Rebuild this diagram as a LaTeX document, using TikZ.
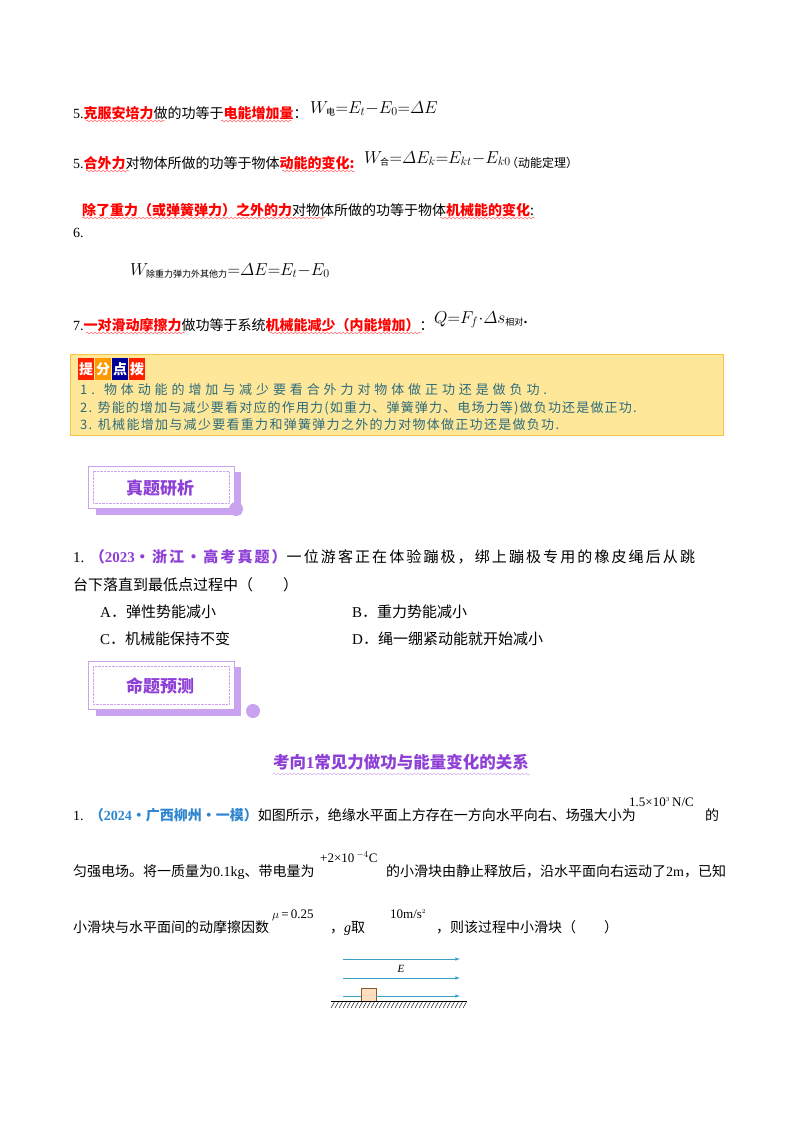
\documentclass[tikz,border=0pt]{standalone}
\usepackage{amsmath}
\usepackage{fontspec}
\setmainfont{Noto Sans CJK SC}
\newfontfamily\ser{Liberation Serif}
\usetikzlibrary{decorations.pathmorphing}
\definecolor{rd}{HTML}{FF0000}
\definecolor{tipbg}{HTML}{FFE79A}
\definecolor{tipbd}{HTML}{F6C64A}
\definecolor{teal}{HTML}{2C6C7C}
\definecolor{pur}{HTML}{8E3FD6}
\definecolor{lpur}{HTML}{C9A2F0}
\definecolor{qblue}{HTML}{2F86D0}
\definecolor{arr}{HTML}{3AA0C8}
\newcommand{\R}[1]{\textcolor{rd}{\bfseries #1}}
\newcommand{\sr}[1]{{\ser #1}}
\newcommand{\cs}[1]{\text{\fontsize{9}{9}\selectfont #1}}
\begin{document}
\begin{tikzpicture}[x=1pt,y=-1pt,
  txt/.style={anchor=base west,inner sep=0pt,font=\fontsize{14}{16}\selectfont},
  qtx/.style={anchor=base west,inner sep=0pt,font=\fontsize{15}{17}\selectfont},
  ptx/.style={anchor=base west,inner sep=0pt,font=\fontsize{14}{16}\selectfont},
  fml/.style={anchor=base west,inner sep=0pt,font=\fontsize{18}{20}\selectfont},
  tip/.style={anchor=base west,inner sep=0pt,text=teal},
  sm/.style={anchor=base west,inner sep=0pt,font=\ser\fontsize{13}{14}\selectfont},
  badge/.style={minimum width=16pt,minimum height=22pt,inner sep=0pt,text=white,font=\fontsize{14}{15}\selectfont\bfseries},
  bannerbox/.style={draw=lpur,line width=1pt,fill=white},
  wavy/.style={draw=rd!70,line width=0.4pt,decorate,decoration={snake,amplitude=0.8pt,segment length=4pt}}
]
\useasboundingbox (0,0) rectangle (800,1132);
\fill[white] (0,0) rectangle (800,1132);

% line 5a
\node[txt] (l1) at (73,118) {\sr{5.}\R{克服安培力}做的功等于\R{电能增加量}：};
\node[fml] (f1) at (310,113) {$W_{\cs{电}}{=}E_t{-}E_0{=}\varDelta E$};
% line 5b
\node[txt] (l2) at (73,168) {\sr{5.}\R{合外力}对物体所做的功等于物体\R{动能的变化:}};
\node[fml] (f2) at (364,163) {$W_{\cs{合}}{=}\varDelta E_k{=}E_{kt}{-}E_{k0}$};
\node[txt,font=\fontsize{12}{13}\selectfont] (l2b) at (506,167) {（动能定理）};
% line 6
\node[txt] (l3) at (82,215) {\R{除了重力（或弹簧弹力）之外的力}对物体所做的功等于物体\R{机械能的变化}:};
\node[txt] (l3n) at (73,237) {\sr{6.}};
\node[fml] (f3) at (130,275) {$W_{\cs{除重力弹力外其他力}}{=}\varDelta E{=}E_t{-}E_0$};
% line 7
\node[txt] (l4) at (73,330) {\sr{7.}\R{一对滑动摩擦力}做功等于系统\R{机械能减少（内能增加）}：};
\node[fml] (f4) at (434,323) {$Q{=}F_f{\cdot}\varDelta s_{\cs{相对}}$.};
\draw[wavy] (86,121)--(165,121); \draw[wavy] (221,121)--(292,121);
\draw[wavy] (86,171)--(130,171); \draw[wavy] (282,171)--(355,171);
\draw[wavy] (82,218)--(325,218); \draw[wavy] (440,218)--(535,218);
\draw[wavy] (86,333)--(185,333); \draw[wavy] (270,333)--(422,333);

% tip box
\draw[tipbd,fill=tipbg,line width=0.8pt] (70,354) rectangle (723,435);
\node[badge,fill=red!75!orange] (b1) at (86,369) {提};
\node[badge,fill=orange!80!yellow] (b2) at (103,369) {分};
\node[badge,fill=blue!60!black] (b3) at (120,369) {点};
\node[badge,fill=red!75!orange] (b4) at (137,369) {拨};
\node[tip,font=\fontsize{13}{14}\selectfont\addfontfeature{LetterSpace=30}] (t1) at (80,394) {1. 物体动能的增加与减少要看合外力对物体做正功还是做负功.};
\node[tip,font=\fontsize{13}{14}\selectfont\addfontfeature{LetterSpace=9}] (t2) at (80,412) {2. 势能的增加与减少要看对应的作用力(如重力、弹簧弹力、电场力等)做负功还是做正功.};
\node[tip,font=\fontsize{13}{14}\selectfont\addfontfeature{LetterSpace=10}] (t3) at (80,429) {3. 机械能增加与减少要看重力和弹簧弹力之外的力对物体做正功还是做负功.};

% banner 1
\fill[lpur] (96,472) rectangle (241,515);
\draw[bannerbox] (88,466) rectangle (234,508);
\draw[lpur,densely dotted] (93,471) rectangle (229,503);
\fill[lpur] (236,509) circle (7);
\node[font=\fontsize{17}{18}\selectfont\bfseries,text=pur] (bn1) at (160,488) {真题研析};

% question 1
\node[qtx,font=\fontsize{15}{17}\selectfont\addfontfeature{LetterSpace=14}] (q1) at (73,562) {\sr{1.}\ \textcolor{pur}{\bfseries （\sr{2023}·浙江·高考真题）}一位游客正在体验蹦极，绑上蹦极专用的橡皮绳后从跳};
\node[qtx] (q1b) at (73,590) {台下落直到最低点过程中（\qquad）};
\node[qtx] (oA) at (100,617) {\sr{A}．弹性势能减小};
\node[qtx] (oB) at (352,617) {\sr{B}．重力势能减小};
\node[qtx] (oC) at (100,644) {\sr{C}．机械能保持不变};
\node[qtx] (oD) at (352,644) {\sr{D}．绳一绷紧动能就开始减小};

% banner 2
\fill[lpur] (96,667) rectangle (241,716);
\draw[bannerbox] (88,661) rectangle (234,709);
\draw[lpur,densely dotted] (93,666) rectangle (229,704);
\fill[lpur] (253,711) circle (7);
\node[font=\fontsize{17}{18}\selectfont\bfseries,text=pur] (bn2) at (160,686) {命题预测};

% heading
\node[anchor=base,inner sep=0pt,font=\fontsize{16.5}{18}\selectfont\bfseries,text=pur] (hd) at (401,768) {考向\sr{1}常见力做功与能量变化的关系};
\draw[lpur,decorate,decoration={snake,amplitude=0.8pt,segment length=4pt}] (273,774)--(530,774);

% question 2
\node[ptx] (p1) at (73,820) {\sr{1.}\ \ \textcolor{qblue}{\bfseries （\sr{2024}·广西柳州·一模）}如图所示，绝缘水平面上方存在一方向水平向右、场强大小为};
\node[sm] (p1m) at (629,806) {1.5×10$^{\scriptscriptstyle 3}$\,N/C};
\node[ptx] (p1e) at (705,820) {的};
\node[ptx] (p2) at (73,876) {匀强电场。将一质量为\sr{0.1kg}、带电量为};
\node[sm] (p2m) at (320,862) {+2×10\,$^{-4}$C};
\node[ptx] (p2e) at (386,876) {的小滑块由静止释放后，沿水平面向右运动了\sr{2m}，已知};
\node[ptx] (p3) at (73,932) {小滑块与水平面间的动摩擦因数};
\node[sm] (p3m) at (272,918) {$\mu$\,=\,0.25};
\node[ptx] (p3b) at (330,932) {，\sr{\itshape g}取};
\node[sm] (p3n) at (390,918) {10m/s$^{\scriptscriptstyle 2}$};
\node[ptx] (p3e) at (436,932) {，则该过程中小滑块（\qquad）};

% figure
\coordinate (a1s) at (343,959); \coordinate (a1e) at (460,959);
\coordinate (a2s) at (343,978); \coordinate (a2e) at (460,978);
\coordinate (a3s) at (343,996); \coordinate (a3e) at (460,996);
\draw[arr,-latex,line width=0.6pt] (a1s)--(a1e);
\draw[arr,-latex,line width=0.6pt] (a2s)--(a2e);
\node[font=\fontsize{11}{12}\selectfont\itshape\ser] (E) at (401,969) {E};
\node[draw=brown!70!black,fill=orange!25,minimum width=15pt,minimum height=13pt,inner sep=0pt,anchor=south west] (blk) at (361,1001) {};
\draw[arr,-latex,line width=0.6pt] (a3s)--(blk.west|-a3s) (blk.east|-a3s)--(a3e);
\coordinate (g1) at (331,1001); \coordinate (g2) at (467,1001);
\draw[line width=0.6pt] (g1)--(g2);
\foreach \x in {335,339,...,467} \draw[line width=0.4pt] (\x,1001)--(\x-4,1008);
\end{tikzpicture}
\end{document}
